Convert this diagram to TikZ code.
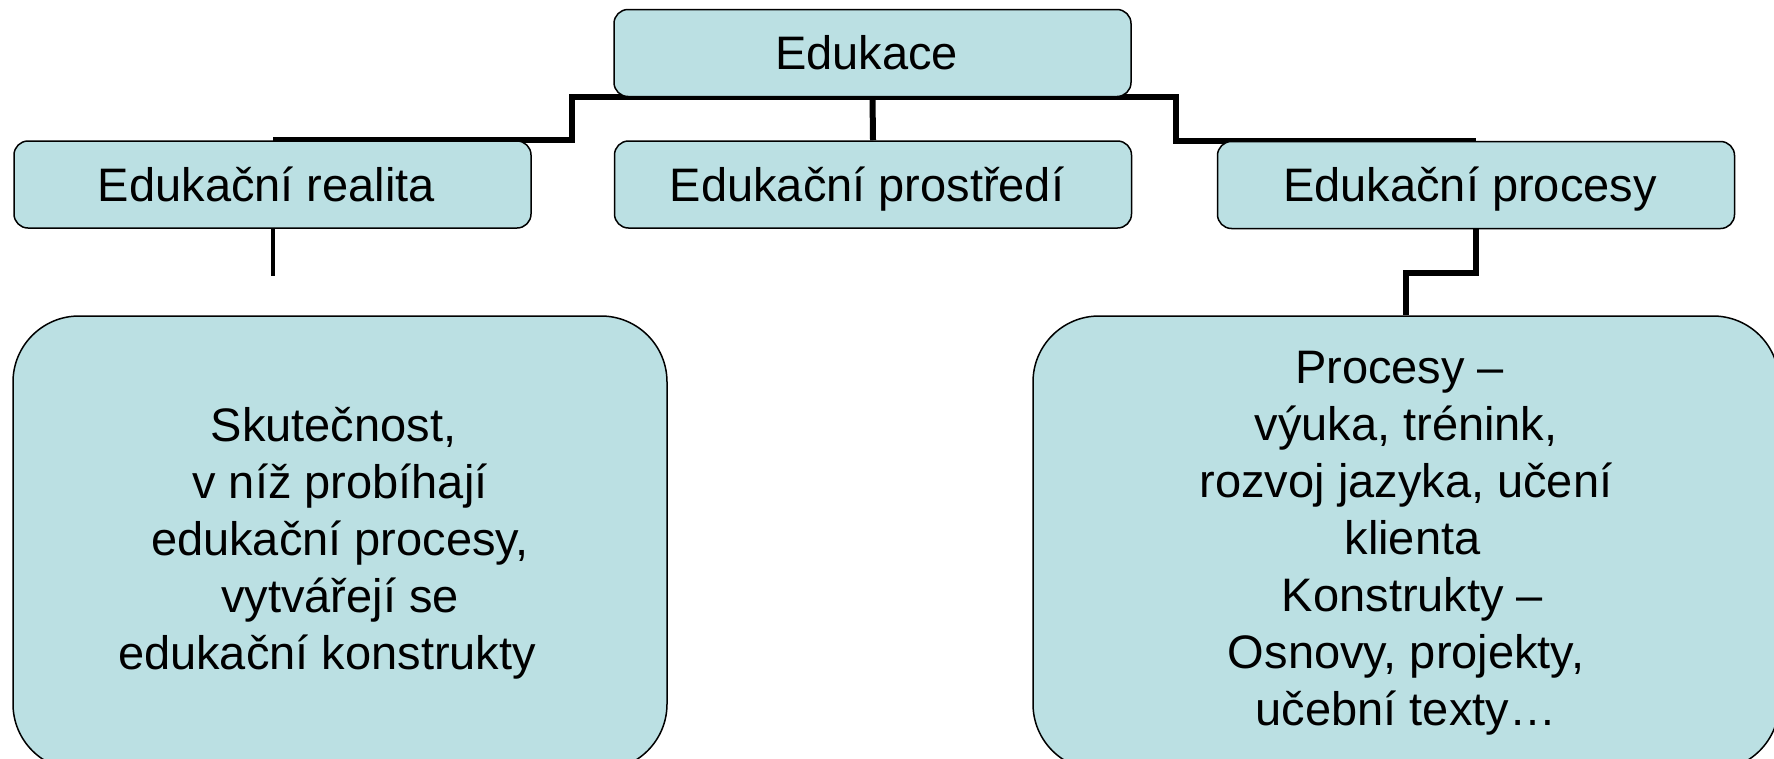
\documentclass[tikz,border=0pt]{standalone}
\usepackage{fontspec}
\setmainfont{Liberation Sans}
\usetikzlibrary{backgrounds}
\definecolor{boxfill}{HTML}{BBE0E3}
\tikzset{
  chartbox/.style={draw=black, line width=1.5pt, fill=boxfill, rounded corners=14pt,
    minimum width=517pt, minimum height=87pt, inner sep=0pt,
    text height=33.6pt, text depth=0pt,
    font=\fontsize{47}{57}\selectfont},
  bigbox/.style={draw=black, line width=1.5pt, fill=boxfill, rounded corners=66pt,
    minimum height=454pt, inner sep=0pt, align=center,
    font=\fontsize{47}{57}\selectfont},
  link/.style={line width=6pt},
  thinlink/.style={line width=4pt}
}
% trailing space used by the box labels
\newcommand{\tailgap}{\hspace*{12pt}}
\begin{document}
\begin{tikzpicture}[x=1pt,y=-1pt]
\useasboundingbox (0,0) rectangle (1774,758);

% top level
\node[chartbox] (E) at (872.5,53) {Edukace\tailgap};

% second level
\node[chartbox] (R) at (272.5,184.5) {Edukační realita\tailgap};
\node[chartbox] (M) at (873,184.5) {Edukační prostředí\tailgap};
\node[chartbox] (P) at (1476,185) {Edukační procesy\tailgap};

% detail boxes
\node[bigbox, minimum width=654pt] (LB) at (340,543)
  {Skutečnost,\hspace*{13pt}\\
   v níž probíhají\hspace*{20pt}\\
   edukační procesy,\hspace*{26pt}\\
   vytvářejí se\hspace*{40pt}\\
   edukační konstrukty\hspace*{26pt}};
\node[bigbox, minimum width=746pt] (PB) at (1406,543)
  {Procesy –\hspace*{13pt}\\
   výuka, trénink,\hspace*{13pt}\\
   rozvoj jazyka, učení\\
   \hspace*{13pt}klienta\\
   \hspace*{13pt}Konstrukty –\\
   Osnovy, projekty,\hspace*{13pt}\\
   učební texty…};

% connectors behind the boxes
\begin{scope}[on background layer]
  \draw[link] (E.south) -- ++(-301,0) |- (R.north);
  \draw[link] (E.south) -- (M.north);
  \draw[link] (E.south) -- ++(303,0) |- (P.north);
  \draw[link] (P.south) -- ++(0,44) -| (PB.north);
  \draw[thinlink] (R.south) -- ++(0,47) coordinate (Rend);
\end{scope}
\end{tikzpicture}
\end{document}
